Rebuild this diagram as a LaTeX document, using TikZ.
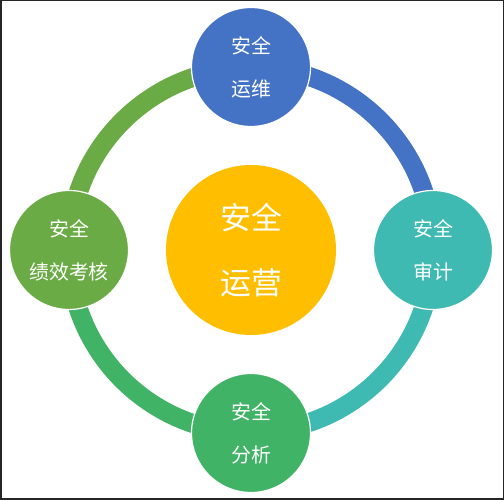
\documentclass[tikz,border=0pt]{standalone}
\usepackage{fontspec}
\usetikzlibrary{backgrounds}
\newfontfamily\cjk{Noto Sans CJK SC}
\definecolor{opsblue}{HTML}{4472C4}
\definecolor{auditteal}{HTML}{3FBAB2}
\definecolor{analgreen}{HTML}{41B366}
\definecolor{kpigreen}{HTML}{6BAB45}
\definecolor{coreamber}{HTML}{FFBF00}
\begin{document}
\begin{tikzpicture}[x=1bp, y=1bp,
  every node/.style={font=\cjk, text=white, align=center},
  petal/.style={circle, draw=white, line width=1.2bp, minimum size=119bp, inner sep=0pt,
    font=\cjk\fontsize{20}{43}\selectfont},
  ring/.style={line width=19bp}]
  % --- Frame ---
  \useasboundingbox (0,0) rectangle (504,500);
  \draw[black!85, line width=1.5bp] (0.75,0.75) rectangle (503.25,499.25);

  % --- Nodes (positions chosen to match the drawing) ---
  \node[petal, fill=opsblue]   (ops)   at (251,433) {安全\\运维};
  \node[petal, fill=auditteal] (audit) at (433,250) {安全\\审计};
  \node[petal, fill=analgreen] (anal)  at (251,67)  {安全\\分析};
  \node[petal, fill=kpigreen]  (kpi)   at (69,250)  {安全\\绩效考核};

  \node[circle, fill=coreamber, minimum size=170bp, inner sep=0pt,
    font=\cjk\fontsize{31}{65}\selectfont] (core) at (251,250) {安全\\运营};

  % --- Ring arcs (clockwise, colour of the starting circle) ---
  \begin{scope}[on background layer]
    \draw[ring, opsblue]   (ops.center)   arc[start angle=90,  end angle=0,    radius=182];
    \draw[ring, auditteal] (audit.center) arc[start angle=0,   end angle=-90,  radius=182];
    \draw[ring, analgreen] (anal.center)  arc[start angle=-90, end angle=-180, radius=182];
    \draw[ring, kpigreen]  (kpi.center)   arc[start angle=180, end angle=90,   radius=182];
  \end{scope}
\end{tikzpicture}
\end{document}
